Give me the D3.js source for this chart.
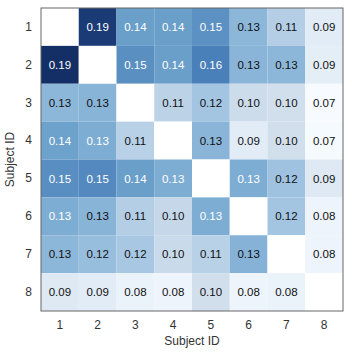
<!DOCTYPE html>
<html>
<head>
<meta charset="utf-8">
<script src="https://cdn.jsdelivr.net/npm/d3@7/dist/d3.min.js"></script>
<style>
  body { margin: 0; background: #fff; }
  text { font-family: 'Liberation Sans', Arial, sans-serif; }
</style>
</head>
<body>
<div id="chart"></div>
<script>
const subjects = ['1', '2', '3', '4', '5', '6', '7', '8'];
const axisLabel = 'Subject ID';
// rows = y subject, columns = x subject; null on the diagonal
const row1 = [null, 0.189, 0.142, 0.142, 0.150, 0.128, 0.112, 0.090];
const row2 = [0.194, null, 0.151, 0.142, 0.160, 0.129, 0.128, 0.088];
const row3 = [0.128, 0.130, null, 0.108, 0.120, 0.100, 0.098, 0.070];
const row4 = [0.140, 0.134, 0.110, null, 0.129, 0.090, 0.098, 0.072];
const row5 = [0.152, 0.155, 0.142, 0.134, null, 0.134, 0.122, 0.092];
const row6 = [0.134, 0.130, 0.112, 0.104, 0.134, null, 0.120, 0.080];
const row7 = [0.128, 0.124, 0.118, 0.102, 0.110, 0.131, null, 0.080];
const row8 = [0.092, 0.090, 0.082, 0.080, 0.098, 0.080, 0.082, null];
const rows = [row1, row2, row3, row4, row5, row6, row7, row8];

const totalW = 352, totalH = 357;
const margin = { top: 8, right: 9, bottom: 46, left: 41 };
const W = totalW - margin.left - margin.right;
const H = totalH - margin.top - margin.bottom;

const svg = d3.select('#chart').append('svg')
  .attr('width', totalW).attr('height', totalH);
const g = svg.append('g').attr('transform', `translate(${margin.left},${margin.top})`);

const x = d3.scaleBand().domain(subjects).range([0, W]);
const y = d3.scaleBand().domain(subjects).range([0, H]);

const color = d3.scaleLinear()
  .domain([0.070, 0.090, 0.100, 0.120, 0.140, 0.160, 0.180, 0.194])
  .range(['#f7fbff', '#e2ecf6', '#cddceb', '#a3c5e2', '#6da2cc', '#4a80b9', '#24508f', '#142f66'])
  .clamp(true);

const cells = [];
rows.forEach((r, i) => r.forEach((v, j) => {
  cells.push({ row: subjects[i], col: subjects[j], v });
}));

g.selectAll('rect.cell')
  .data(cells).enter().append('rect')
  .attr('class', 'cell')
  .attr('x', d => x(d.col)).attr('y', d => y(d.row))
  .attr('width', x.bandwidth()).attr('height', y.bandwidth())
  .attr('fill', d => d.v == null ? '#ffffff' : color(d.v));

g.selectAll('text.val')
  .data(cells.filter(d => d.v != null)).enter().append('text')
  .attr('class', 'val')
  .attr('x', d => x(d.col) + x.bandwidth() / 2)
  .attr('y', d => y(d.row) + y.bandwidth() / 2)
  .attr('dy', '0.36em')
  .attr('text-anchor', 'middle')
  .attr('font-size', '11.5px')
  .attr('fill', d => d.v >= 0.133 ? '#ffffff' : '#111111')
  .text(d => d.v.toFixed(2));

// frame
g.append('rect')
  .attr('x', 0).attr('y', 0).attr('width', W).attr('height', H)
  .attr('fill', 'none').attr('stroke', '#666').attr('stroke-width', 1);

const xAxis = g.append('g').attr('transform', `translate(0,${H})`)
  .call(d3.axisBottom(x).tickSize(0).tickPadding(9));
xAxis.select('.domain').remove();
xAxis.selectAll('text').attr('font-size', '12px').attr('fill', '#333')
  .attr('font-family', "'Liberation Sans', Arial, sans-serif");

const yAxis = g.append('g')
  .call(d3.axisLeft(y).tickSize(0).tickPadding(9));
yAxis.select('.domain').remove();
yAxis.selectAll('text').attr('font-size', '12px').attr('fill', '#333')
  .attr('font-family', "'Liberation Sans', Arial, sans-serif");

svg.append('text')
  .attr('x', margin.left + W / 2).attr('y', 345)
  .attr('text-anchor', 'middle').attr('font-size', '12px').attr('fill', '#333')
  .text(axisLabel);

svg.append('text')
  .attr('transform', `translate(14,${margin.top + H / 2}) rotate(-90)`)
  .attr('text-anchor', 'middle').attr('font-size', '12px').attr('fill', '#333')
  .text(axisLabel);
</script>
</body>
</html>
